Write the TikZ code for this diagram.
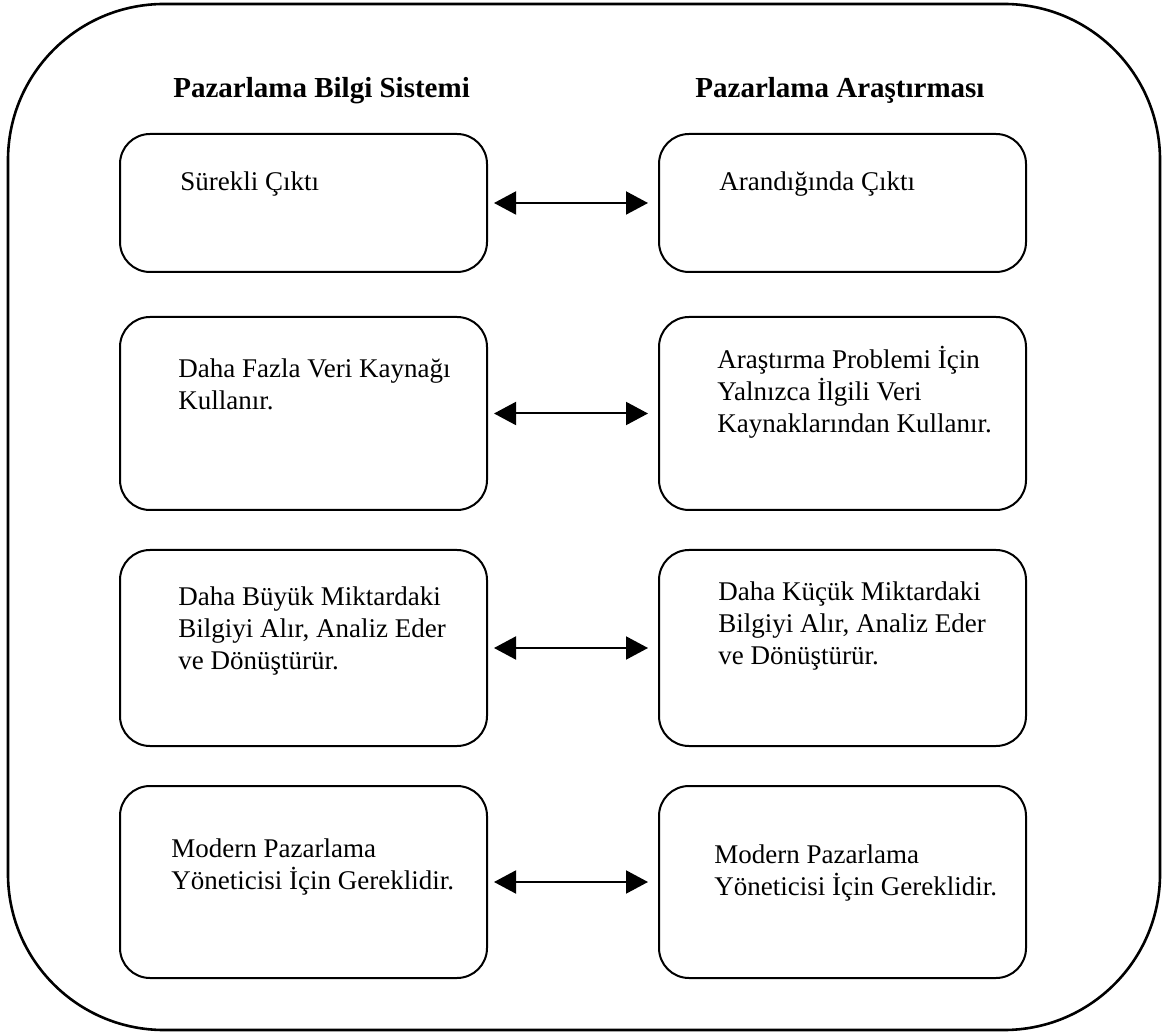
\documentclass[tikz,border=0pt]{standalone}
\usepackage{fontspec}
\setmainfont{Liberation Serif}
\usetikzlibrary{arrows.meta}
\newcommand\tstrut{\rule{0pt}{14pt}}
\begin{document}
\begin{tikzpicture}[x=0.5pt,y=-0.5pt,
  frame/.style={draw,line width=1.3pt,rounded corners=78pt,inner sep=0pt,outer sep=0pt,
    minimum width=576pt,minimum height=513pt},
  card/.style={draw,line width=1pt,rounded corners=15pt,inner sep=0pt,outer sep=0pt,anchor=north west,
    minimum width=183.5pt},
  head/.style={anchor=base west,inner sep=0pt,font=\fontsize{14.5}{17}\selectfont\bfseries},
  txt/.style={anchor=north west,inner sep=0pt,align=left,font=\fontsize{13.5}{16}\selectfont},
  arr/.style={{Triangle[length=11pt,width=11.5pt]}-{Triangle[length=11pt,width=11.5pt]},line width=1pt,
    shorten <=3.5pt,shorten >=5.5pt}]
\useasboundingbox (0,0) rectangle (1166,1036);
\node[frame] (outer) at (584,517) {};
\node[head] (hl) at (173,98) {Pazarlama Bilgi Sistemi};
\node[head] (hr) at (695,98) {Pazarlama Araştırması};
% boxes
\node[card,minimum height=69pt] (l1) at (120,134) {};
\node[card,minimum height=69pt] (r1) at (659,134) {};
\node[card,minimum height=96.5pt] (l2) at (120,317) {};
\node[card,minimum height=96.5pt] (r2) at (659,317) {};
\node[card,minimum height=98pt] (l3) at (120,550) {};
\node[card,minimum height=98pt] (r3) at (659,550) {};
\node[card,minimum height=96pt] (l4) at (120,786) {};
\node[card,minimum height=96pt] (r4) at (659,786) {};
% texts
\node[txt] (tl1) at (180,162) {\tstrut Sürekli Çıktı};
\node[txt] (tr1) at (719,162) {\tstrut Arandığında Çıktı};
\node[txt] (tl2) at (178,349) {\tstrut Daha Fazla Veri Kaynağı\\Kullanır.};
\node[txt] (tr2) at (717,340) {\tstrut Araştırma Problemi İçin\\Yalnızca İlgili Veri\\Kaynaklarından Kullanır.};
\node[txt] (tl3) at (178,577) {\tstrut Daha Büyük Miktardaki\\Bilgiyi Alır, Analiz Eder\\ve Dönüştürür.};
\node[txt] (tr3) at (718,572) {\tstrut Daha Küçük Miktardaki\\Bilgiyi Alır, Analiz Eder\\ve Dönüştürür.};
\node[txt] (tl4) at (171,829) {\tstrut Modern Pazarlama\\Yöneticisi İçin Gereklidir.};
\node[txt] (tr4) at (714,835) {\tstrut Modern Pazarlama\\Yöneticisi İçin Gereklidir.};
% arrows
\draw[arr] (l1) -- (r1);
\draw[arr] (l2) -- (r2);
\draw[arr] (l3) -- (r3);
\draw[arr] (l4) -- (r4);
\end{tikzpicture}
\end{document}
